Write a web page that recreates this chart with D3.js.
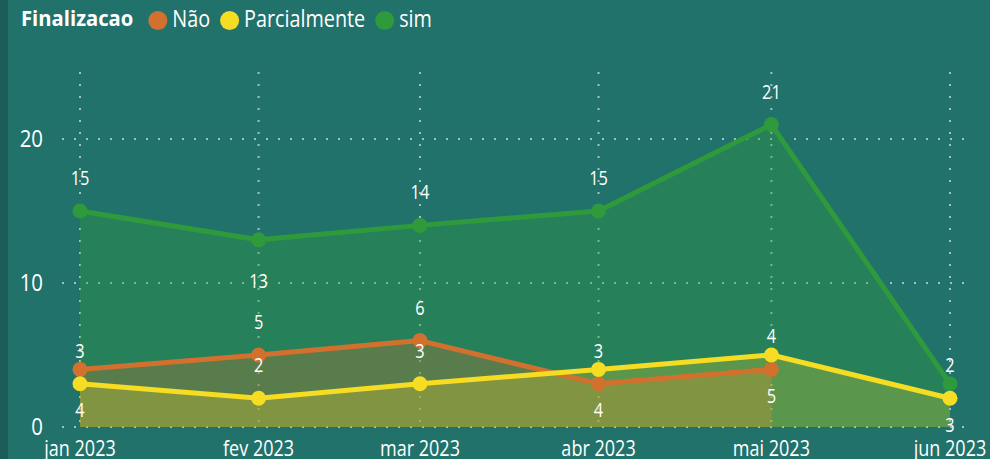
<!DOCTYPE html>
<meta charset="utf-8">
<style>
  body { margin: 0; background: #22726c; }
  svg { display: block; }
  text { font-family: "Segoe UI", "Open Sans", sans-serif; fill: #ffffff; }
  .grid { stroke: #cfdedb; stroke-opacity: 0.75; stroke-width: 2; stroke-dasharray: 2,10; }
</style>
<svg width="990" height="459"></svg>
<script src="https://d3js.org/d3.v7.min.js"></script>
<script>
  // data
  var months = ["2023-01-01", "2023-02-01", "2023-03-01", "2023-04-01", "2023-05-01", "2023-06-01"];
  var monthLabels = ["jan 2023", "fev 2023", "mar 2023", "abr 2023", "mai 2023", "jun 2023"];
  var seriesNames = ["Não", "Parcialmente", "sim"];
  var naoValues = [4, 5, 6, 3, 4, null];
  var parcValues = [3, 2, 3, 4, 5, 2];
  var simValues = [15, 13, 14, 15, 21, 3];
  var yTicks = [0, 10, 20];

  // where each data label sits relative to its point
  var naoLabelPos = ["below", "above", "above", "above", "above", null];
  var parcLabelPos = ["above", "above", "above", "below", "below", "above"];
  var simLabelPos = ["above", "below", "above", "above", "above", "below"];

  var colors = { "Não": "#d2702e", "Parcialmente": "#f6dc22", "sim": "#2f9a3b" };
  var areaOpacity = { "Não": 0.3, "Parcialmente": 0.25, "sim": 0.36 };

  var svg = d3.select("svg");
  var parseDate = d3.timeParse("%Y-%m-%d");
  var dates = months.map(parseDate);

  // background strip on the left edge
  svg.append("rect").attr("width", 990).attr("height", 459).attr("fill", "#22726c");
  svg.append("rect").attr("width", 8).attr("height", 459).attr("fill", "#1b5e59");

  var x = d3.scaleTime().domain(d3.extent(dates)).range([80, 950]);
  var y = d3.scaleLinear().domain([0, 24.65]).range([427, 72]);

  // scaled (narrow) text helper
  function label(g, px, py, str, size, anchor, weight, sx) {
    return g.append("text")
      .attr("transform", "translate(" + px + "," + py + ") scale(" + sx + ",1)")
      .attr("font-size", size)
      .attr("font-weight", weight || "normal")
      .attr("text-anchor", anchor)
      .text(str);
  }

  // grid
  var grid = svg.append("g");
  grid.selectAll(".hgrid")
    .data(yTicks)
    .enter().append("line")
    .attr("class", "grid")
    .attr("x1", 62).attr("x2", 966)
    .attr("y1", function (d) { return y(d); })
    .attr("y2", function (d) { return y(d); });
  grid.selectAll(".vgrid")
    .data(dates)
    .enter().append("line")
    .attr("class", "grid")
    .attr("x1", function (d) { return x(d); })
    .attr("x2", function (d) { return x(d); })
    .attr("y1", y.range()[1])
    .attr("y2", y(0));

  var series = [
    { name: "sim", values: simValues, pos: simLabelPos },
    { name: "Não", values: naoValues, pos: naoLabelPos },
    { name: "Parcialmente", values: parcValues, pos: parcLabelPos }
  ];
  series.forEach(function (s) {
    s.points = s.values.map(function (v, i) { return { date: dates[i], value: v, pos: s.pos[i] }; })
      .filter(function (p) { return p.value != null; });
  });

  var area = d3.area()
    .x(function (d) { return x(d.date); })
    .y0(y(0))
    .y1(function (d) { return y(d.value); });
  var line = d3.line()
    .x(function (d) { return x(d.date); })
    .y(function (d) { return y(d.value); });

  svg.append("g").selectAll("path")
    .data(series)
    .enter().append("path")
    .attr("d", function (s) { return area(s.points); })
    .attr("fill", function (s) { return colors[s.name]; })
    .attr("fill-opacity", function (s) { return areaOpacity[s.name]; });

  series.forEach(function (s) {
    var g = svg.append("g");
    g.append("path")
      .attr("d", line(s.points))
      .attr("fill", "none")
      .attr("stroke", colors[s.name])
      .attr("stroke-width", 5)
      .attr("stroke-linejoin", "round");
    g.selectAll("circle")
      .data(s.points)
      .enter().append("circle")
      .attr("cx", function (d) { return x(d.date); })
      .attr("cy", function (d) { return y(d.value); })
      .attr("r", 7.5)
      .attr("fill", colors[s.name]);
  });

  // data labels
  var labels = svg.append("g");
  series.forEach(function (s) {
    s.points.forEach(function (p) {
      var py = p.pos === "below" ? y(p.value) + 48 : y(p.value) - 26;
      label(labels, x(p.date), py, p.value, 20, "middle", "normal", 0.82);
    });
  });

  // y axis labels
  var yAxis = svg.append("g");
  yTicks.forEach(function (t) {
    label(yAxis, 43, y(t) + 8, t, 24, "end", "normal", 0.85);
  });

  // x axis labels
  var xAxis = svg.append("g");
  dates.forEach(function (d, i) {
    label(xAxis, x(d), 456, monthLabels[i], 22, "middle", "normal", 0.82);
  });

  // legend
  var legend = svg.append("g");
  var title = label(legend, 21, 26, "Finalizacao", 22, "start", "bold", 0.92);
  var lx = 21 + title.node().getComputedTextLength() * 0.92 + 15;
  seriesNames.forEach(function (name) {
    legend.append("circle")
      .attr("cx", lx + 9.5).attr("cy", 20.5).attr("r", 9.5)
      .attr("fill", colors[name]);
    var t = label(legend, lx + 24, 27, name, 23, "start", "normal", 0.86);
    lx += 24 + t.node().getComputedTextLength() * 0.86 + 10;
  });
</script>
